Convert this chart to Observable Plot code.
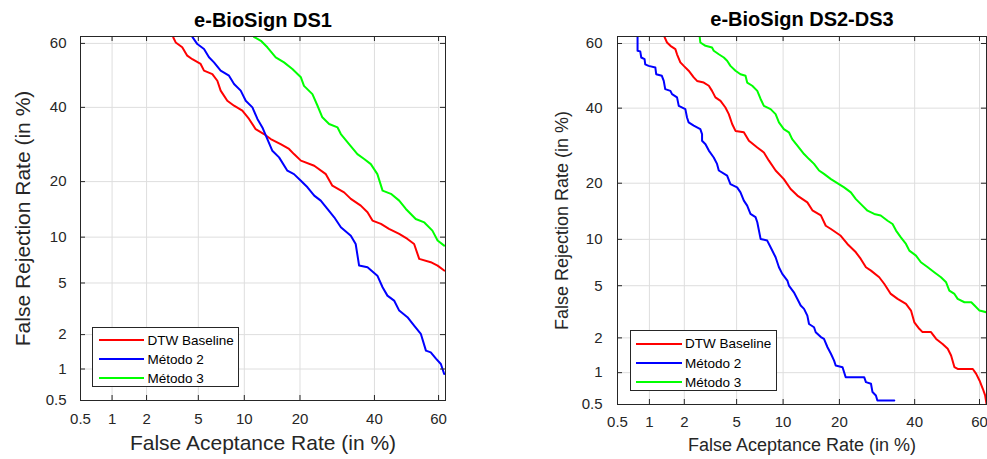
<!DOCTYPE html>
<html><head><meta charset="utf-8">
<script src="https://cdn.jsdelivr.net/npm/d3@7"></script>
<script src="https://cdn.jsdelivr.net/npm/@observablehq/plot@0.6"></script>
<style>
body{margin:0;background:#fff;}
#wrap{position:relative;width:987px;height:459px;overflow:hidden;background:#fff;font-family:"Liberation Sans",Arial,Helvetica,sans-serif;}
#wrap svg{position:absolute;top:0;}
.legend{position:absolute;box-sizing:border-box;border:1px solid #262626;background:#fff;font-size:13.5px;color:#000;}
.legend .row{position:absolute;left:0;height:19px;display:flex;align-items:center;}
.legend .sw{display:inline-block;height:2px;}
</style></head>
<body><div id="wrap"></div>
<script>
// ---- data (percent) ----
const tickPct = [0.5, 1, 2, 5, 10, 20, 40, 60];
const tickLabels = ["0.5", "1", "2", "5", "10", "20", "40", "60"];
const seriesNames = ["DTW Baseline", "Método 2", "Método 3"];
const seriesColors = ["#ff0000", "#0000ff", "#00ff00"];
const titles = ["e-BioSign DS1", "e-BioSign DS2-DS3"];
const xLabel = "False Aceptance Rate (in %)";
const yLabel = "False Rejection Rate (in %)";

const ds1_dtw_far = [3.27,3.41,3.82,4.16,4.53,5.19,5.48,6.25,6.75,7.10,7.84,8.65,9.73,10.67,11.67,13.0,14.17,16.0,17.67,18.7,20.2,23.3,26.2,27.9,31.1,33.0,35.9,37.9,39.4,42.0,44.5,47.7,50.3,52.4,54.0,57.6,59.7,61.7];
const ds1_dtw_frr = [61.8,60.3,58.8,56.2,55.1,53.6,51.5,50.4,48.3,45.2,42.05,40.5,39.0,36.5,33.5,32.1,30.7,29.3,28.0,26.65,24.97,23.7,21.7,19.1,17.7,16.4,15.1,13.9,12.5,11.96,11.2,10.45,9.75,9.08,7.30,6.94,6.59,6.10];
const ds1_m2_far = [4.53,4.92,5.48,5.93,6.41,7.10,8.04,8.65,9.51,10.2,11.17,11.94,12.74,13.58,14.46,15.70,17.33,18.7,20.2,21.7,23.3,24.9,26.6,28.4,30.2,33.0,34.4,35.4,37.9,40.9,42.5,44.0,46.1,47.7,50.3,52.4,54.5,56.1,57.6,59.2,60.7,61.7];
const ds1_m2_frr = [62.0,59.8,58.3,55.7,54.1,51.5,49.9,47.3,45.2,42.05,40.0,36.5,34.0,30.7,27.5,25.8,22.5,21.7,20.2,18.76,17.04,16.05,14.5,13.04,11.44,10.2,9.08,6.59,6.42,5.63,4.66,4.05,3.72,3.12,2.77,2.37,2.03,1.46,1.41,1.24,1.11,0.90];
const ds1_m3_far = [11.4,12.5,13.58,15.07,16.66,18.36,20.2,20.9,22.86,24.1,25.3,27.05,29.3,30.2,32.5,34.9,36.9,38.9,40.9,42.5,45.1,47.7,49.8,52.9,55.6,58.1,59.7,61.7];
const ds1_m3_frr = [62.0,60.8,58.8,55.7,54.1,52.0,49.4,46.7,44.1,40.5,37.0,35.0,34.0,32.1,29.3,26.65,25.4,24.1,21.7,18.06,17.4,16.05,14.5,12.76,12.2,10.94,9.53,8.87];

const ds23_dtw_far = [1.36,1.43,1.53,1.685,1.74,1.855,1.98,2.17,2.385,2.535,2.86,3.13,3.31,3.51,3.83,4.16,4.40,4.65,4.91,5.61,6.07,6.90,7.61,8.19,9.01,10.1,11.07,12.1,13.74,14.62,16.2,17.15,18.2,20.3,21.8,23.8,25.0,26.3,27.6,29.8,31.2,33.0,34.95,37.4,38.9,39.9,41.4,42.4,45.0,46.6,48.6,50.2,51.25,52.3,53.3,57.97,59.0,60.0,61.0,61.7,62.1];
const ds23_dtw_frr = [62.0,60.3,59.3,58.3,56.7,54.2,53.1,51.6,49.5,48.4,47.9,46.9,45.3,43.3,42.2,40.2,38.2,35.3,33.3,32.9,30.55,28.7,27.4,25.3,22.9,20.9,18.75,17.4,16.07,14.6,13.7,12.0,11.5,10.5,9.38,8.33,7.56,6.68,6.34,5.72,5.14,4.37,4.02,3.69,3.29,2.67,2.37,2.23,2.23,1.96,1.78,1.62,1.42,1.12,1.08,1.08,0.976,0.848,0.709,0.612,0.508];
const ds23_m2_far = [0.778,0.778,0.824,0.842,0.903,0.916,0.983,1.13,1.15,1.29,1.34,1.38,1.53,1.58,1.74,1.80,2.04,2.105,2.17,2.385,2.69,2.775,2.775,2.95,3.13,3.41,3.61,3.72,4.28,4.52,5.04,5.32,5.61,5.91,6.22,6.72,6.90,7.25,7.99,8.39,9.01,9.44,9.89,10.6,10.82,11.56,12.1,12.63,13.18,13.74,14.03,14.92,15.23,16.2,16.8,17.5,18.2,18.86,19.2,20.7,21.05,21.4,25.85,26.3,27.6,28.0,28.9,29.3,34.0];
const ds23_m2_frr = [62.0,57.8,57.6,55.7,55.2,53.6,53.1,52.6,50.5,50.0,48.4,45.85,45.3,44.3,43.3,40.7,39.7,37.2,35.75,34.8,33.8,32.4,30.55,29.6,27.9,26.1,24.5,22.9,21.7,19.8,19.1,18.06,16.4,15.45,13.95,13.4,12.55,10.06,9.83,8.96,7.75,6.68,6.03,5.43,5.01,4.49,4.02,3.59,3.39,3.01,2.59,2.44,2.225,2.03,1.96,1.67,1.47,1.28,1.16,1.12,1.01,0.91,0.91,0.818,0.79,0.66,0.612,0.548,0.548];
const ds23_m3_far = [2.66,2.69,2.95,3.31,3.41,3.72,4.05,4.28,4.52,4.91,5.32,5.76,5.91,6.39,6.90,7.25,7.61,8.39,9.01,9.44,10.1,10.82,11.3,12.1,13.18,14.03,14.92,15.85,16.8,18.2,19.9,21.05,22.6,23.8,25.4,26.7,28.45,30.2,32.1,33.5,34.5,35.9,37.4,38.4,40.4,41.9,44.0,46.0,48.1,49.7,50.7,52.3,53.3,55.4,57.5,58.5,60.0,62.0];
const ds23_m3_frr = [62.0,60.3,59.3,58.8,57.8,56.7,55.7,54.7,53.1,51.6,50.5,50.0,47.9,46.9,45.3,42.8,40.7,39.7,38.2,35.75,33.8,32.9,31.0,29.2,27.0,25.7,24.5,22.9,22.1,20.9,19.8,19.1,18.06,16.7,15.45,14.53,13.95,13.67,12.8,12.28,11.26,10.28,9.38,8.54,7.94,7.2,6.68,6.19,5.72,5.28,4.62,4.37,4.02,3.80,3.80,3.59,3.29,3.20];

const axisMinPct = 0.5, axisMaxPct = 62.1;

// ---- normal deviate (probit) for the DET axes ----
function probit(p){
  const a=[-3.969683028665376e+01,2.209460984245205e+02,-2.759285104469687e+02,1.383577518672690e+02,-3.066479806614716e+01,2.506628277459239e+00];
  const b=[-5.447609879822406e+01,1.615858368580409e+02,-1.556989798598866e+02,6.680131188771972e+01,-1.328068155288572e+01];
  const c=[-7.784894002430293e-03,-3.223964580411365e-01,-2.400758277161838e+00,-2.549732539343734e+00,4.374664141464968e+00,2.938163982698783e+00];
  const d=[7.784695709041462e-03,3.224671290700398e-01,2.445134137142996e+00,3.754408661907416e+00];
  const pl=0.02425, ph=1-pl;
  if(p<pl){const q=Math.sqrt(-2*Math.log(p));return (((((c[0]*q+c[1])*q+c[2])*q+c[3])*q+c[4])*q+c[5])/((((d[0]*q+d[1])*q+d[2])*q+d[3])*q+1);}
  if(p<=ph){const q=p-0.5,r=q*q;return (((((a[0]*r+a[1])*r+a[2])*r+a[3])*r+a[4])*r+a[5])*q/(((((b[0]*r+b[1])*r+b[2])*r+b[3])*r+b[4])*r+1);}
  const q=Math.sqrt(-2*Math.log(1-p));return -(((((c[0]*q+c[1])*q+c[2])*q+c[3])*q+c[4])*q+c[5])/((((d[0]*q+d[1])*q+d[2])*q+d[3])*q+1);
}
const Z = pct => probit(pct / 100);
const tickZ = tickPct.map(Z);
const fmt = z => { const i = tickZ.findIndex(t => Math.abs(t - z) < 1e-9); return i < 0 ? "" : tickLabels[i]; };

function det(cfg){
  const {title, series, width, height, ml, mr, mt, mb, tickFont, labelFont, titleDy, xLabelDy, yLabelDx, padX, padY} = cfg;
  const fh = height - mt - mb, fw = width - ml - mr;
  const rows = series.flatMap((s) => s.far.map((f, i) => ({name: s.name, far: f, frr: s.frr[i]})));
  const axisColor = "#262626";
  const svg = Plot.plot({
    width, height, marginLeft: ml, marginRight: mr, marginTop: mt, marginBottom: mb,
    style: {fontFamily: '"Liberation Sans", Arial, Helvetica, sans-serif', fontSize: tickFont + "px", color: axisColor, background: "transparent", overflow: "visible"},
    x: {domain: [Z(axisMinPct), Z(axisMaxPct)]},
    y: {domain: [Z(axisMinPct), Z(axisMaxPct)]},
    color: {domain: seriesNames, range: seriesColors},
    marks: [
      Plot.gridX(tickZ, {stroke: "#dedede", strokeOpacity: 1}),
      Plot.gridY(tickZ, {stroke: "#dedede", strokeOpacity: 1}),
      Plot.line(rows, {x: d => Z(d.far), y: d => Z(d.frr), z: "name", stroke: "name", strokeWidth: 2, clip: true}),
      Plot.tickX(tickZ, {x: d => d, insetTop: fh - 5, stroke: axisColor}),
      Plot.tickX(tickZ, {x: d => d, insetBottom: fh - 5, stroke: axisColor}),
      Plot.tickY(tickZ, {y: d => d, insetRight: fw - 5, stroke: axisColor}),
      Plot.tickY(tickZ, {y: d => d, insetLeft: fw - 5, stroke: axisColor}),
      Plot.frame({stroke: axisColor, strokeWidth: 1}),
      Plot.axisX(tickZ, {tickSize: 0, tickPadding: padX, tickFormat: fmt, label: null}),
      Plot.axisY(tickZ, {tickSize: 0, tickPadding: padY, tickFormat: fmt, label: null}),
      Plot.text([title], {frameAnchor: "top", textAnchor: "middle", lineAnchor: "middle", dy: titleDy, fontWeight: "bold", fontSize: 20, fill: "#000"}),
      Plot.text([xLabel], {frameAnchor: "bottom", textAnchor: "middle", lineAnchor: "middle", dy: xLabelDy, fontSize: labelFont, fill: axisColor}),
      Plot.text([yLabel], {frameAnchor: "left", textAnchor: "middle", lineAnchor: "middle", dx: yLabelDx, rotate: -90, fontSize: labelFont, fill: axisColor})
    ]
  });
  return svg;
}

function legend(left, top, w, h, rowTops, lineL, lineR, textL){
  const div = document.createElement("div");
  div.className = "legend";
  Object.assign(div.style, {left: left + "px", top: top + "px", width: w + "px", height: h + "px"});
  seriesNames.forEach((n, i) => {
    const row = document.createElement("div");
    row.className = "row";
    row.style.top = rowTops[i] + "px";
    const sw = document.createElement("span");
    sw.className = "sw";
    Object.assign(sw.style, {marginLeft: lineL + "px", width: (lineR - lineL) + "px", background: seriesColors[i]});
    const tx = document.createElement("span");
    tx.textContent = n;
    tx.style.marginLeft = (textL - lineR) + "px";
    row.append(sw, tx);
    div.append(row);
  });
  return div;
}

const wrap = document.getElementById("wrap");
const left = det({
  title: titles[0],
  series: [
    {name: seriesNames[0], far: ds1_dtw_far, frr: ds1_dtw_frr},
    {name: seriesNames[1], far: ds1_m2_far, frr: ds1_m2_frr},
    {name: seriesNames[2], far: ds1_m3_far, frr: ds1_m3_frr}
  ],
  width: 460, height: 459, ml: 80, mr: 15, mt: 36, mb: 59,
  tickFont: 15, labelFont: 21, titleDy: -16, xLabelDy: 43, yLabelDx: -57, padX: 12.5, padY: 14
});
left.style.left = "0px";
wrap.append(left);

const right = det({
  title: titles[1],
  series: [
    {name: seriesNames[0], far: ds23_dtw_far, frr: ds23_dtw_frr},
    {name: seriesNames[1], far: ds23_m2_far, frr: ds23_m2_frr},
    {name: seriesNames[2], far: ds23_m3_far, frr: ds23_m3_frr}
  ],
  width: 457, height: 459, ml: 87, mr: 1, mt: 36, mb: 55,
  tickFont: 15, labelFont: 18, titleDy: -17, xLabelDy: 41, yLabelDx: -55, padX: 12.3, padY: 15
});
right.style.left = "530px";
wrap.append(right);

wrap.append(legend(92, 327, 147, 60, [2.5, 21.5, 40.5], 5.5, 50.5, 54.5));
wrap.append(legend(630, 330, 147, 61, [3, 22.5, 41.5], 5, 50.5, 54));
</script></body></html>
